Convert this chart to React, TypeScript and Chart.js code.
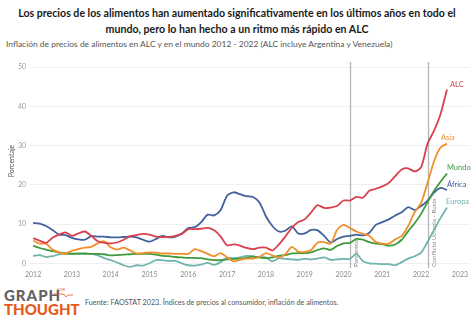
import React, { useEffect, useRef } from "react";
import { Chart, registerables } from "chart.js";

Chart.register(...registerables);

const months = [
  "2012-01","2012-03","2012-05","2012-07","2012-09","2012-11",
  "2013-01","2013-03","2013-05","2013-07","2013-09","2013-11",
  "2014-01","2014-03","2014-05","2014-07","2014-09","2014-11",
  "2015-01","2015-03","2015-05","2015-07","2015-09","2015-11",
  "2016-01","2016-03","2016-05","2016-07","2016-09","2016-11",
  "2017-01","2017-03","2017-05","2017-07","2017-09","2017-11",
  "2018-01","2018-03","2018-05","2018-07","2018-09","2018-11",
  "2019-01","2019-03","2019-05","2019-07","2019-09","2019-11",
  "2020-01","2020-03","2020-05","2020-07","2020-09","2020-11",
  "2021-01","2021-03","2021-05","2021-07","2021-09","2021-11",
  "2022-01","2022-03","2022-05","2022-07","2022-09",
];

const alc = [6.4,5.8,5.2,6.5,7.3,7.9, 7.0,7.6,8.1,7.0,5.6,5.2, 5.1,5.3,6.0,6.9,7.2,7.5, 7.3,6.8,6.7,6.7,7.0,7.5, 8.7,8.7,8.8,9.0,8.4,6.8, 4.6,4.8,4.5,3.9,3.6,4.0, 4.0,3.3,4.8,6.8,9.0,10.5, 11.2,13.0,14.8,14.1,14.2,14.6, 16.0,16.0,16.9,16.7,18.5,19.0, 19.6,20.5,22.2,23.9,24.2,23.4, 24.5,30.5,33.8,38.0,44.3];
const asia = [5.8,5.0,5.0,3.5,2.8,2.5, 3.2,3.6,4.0,4.2,5.1,5.6, 4.1,3.5,4.0,3.3,2.5,2.6, 2.8,2.7,2.5,2.5,2.4,2.4, 2.4,3.6,3.1,2.4,1.8,2.6, 1.5,0.5,0.9,1.2,1.2,1.6, 2.6,2.0,1.5,2.3,4.2,3.0, 2.9,3.4,5.3,5.4,5.0,8.5, 9.8,9.0,8.1,7.5,7.0,5.4, 5.0,5.0,6.1,7.0,9.5,13.0, 15.4,20.5,26.0,29.5,30.5];
const mundo = [4.5,3.9,3.5,3.1,2.8,2.5, 2.4,2.5,2.5,2.4,2.4,2.3, 2.0,2.1,2.2,2.3,2.4,2.4, 2.4,2.2,1.9,1.8,1.6,1.5, 1.4,1.4,1.3,1.0,0.8,0.8, 1.0,1.1,1.2,1.4,1.7,1.5, 1.3,1.5,1.9,2.1,2.5,2.6, 2.6,2.8,3.4,3.8,3.4,4.4, 5.1,5.2,6.2,6.0,5.4,5.0, 4.9,4.5,4.8,6.0,8.2,10.2, 12.6,15.6,18.5,20.8,22.9];
const africa = [10.3,10.1,9.5,8.5,7.3,7.2, 6.5,6.1,6.0,6.9,6.8,6.8, 6.6,6.6,6.7,6.8,6.6,6.0, 5.5,6.2,7.0,6.6,6.8,7.6, 9.0,9.2,10.5,12.4,12.2,13.6, 17.2,18.1,17.6,17.1,16.9,15.5, 12.0,9.5,8.1,8.3,9.4,7.6, 7.6,8.5,8.4,7.0,5.3,6.2, 6.8,7.0,7.3,7.1,7.8,9.8, 10.5,11.2,12.2,13.0,14.3,13.6, 14.6,16.0,18.0,19.2,18.7];
const europa = [1.9,2.1,1.6,1.8,2.3,2.5, 2.5,2.4,2.4,2.4,2.0,1.3, 0.8,0.2,-0.5,-0.9,-0.5,-0.6, 0.0,0.8,0.8,0.6,0.6,0.0, -0.5,-0.6,-0.3,0.1,-0.4,0.3, 1.4,1.3,1.5,1.9,1.8,1.5, 1.5,0.5,1.3,1.1,1.0,0.9, 1.1,1.0,1.2,1.5,0.9,1.0, 1.1,1.1,2.4,0.5,0.0,-0.1, -0.2,-0.2,-0.5,0.3,1.2,1.8, 2.7,5.5,8.5,11.5,14.2];

const seriesNames = ["ALC", "Asia", "Mundo", "África", "Europa"];
const seriesValues = [alc, asia, mundo, africa, europa];
const yearTicks = [2012, 2013, 2014, 2015, 2016, 2017, 2018, 2019, 2020, 2021, 2022, 2023];
const valueTicks = [0, 10, 20, 30, 40, 50];
const eventMonths = ["2020-03", "2022-03"];
const eventLabels = ["Pandemia", "Conflicto Ucrania - Rusia"];

const colors = ["#d8414f", "#f28e2b", "#3f9a3c", "#41609d", "#72b3ae"];
const labelOffsets = [[3, -5], [-6, -6], [0, -6], [0, -5], [-1, -6]];
const FONT = "Lato, 'Open Sans', sans-serif";

const toYear = (m: string) => {
  const [y, mo] = m.split("-").map(Number);
  return y + (mo - 1) / 12;
};

const overlayPlugin = {
  id: "overlay",
  beforeDatasetsDraw(chart: any) {
    const { ctx, chartArea, scales } = chart;
    ctx.save();
    eventMonths.forEach((m, i) => {
      const x = Math.round(scales.x.getPixelForValue(toYear(m))) + 0.5;
      ctx.strokeStyle = "#b5b5b5";
      ctx.lineWidth = 1.3;
      ctx.beginPath();
      ctx.moveTo(x, chartArea.top);
      ctx.lineTo(x, chartArea.bottom);
      ctx.stroke();
      ctx.save();
      ctx.translate(x + 2, chartArea.bottom - 1);
      ctx.rotate(-Math.PI / 2);
      ctx.fillStyle = "#8a8a8a";
      ctx.font = `6.3px ${FONT}`;
      ctx.textAlign = "left";
      ctx.textBaseline = "top";
      ctx.fillText(eventLabels[i], 0, 0);
      ctx.restore();
    });
    ctx.save();
    ctx.translate(12, 111);
    ctx.rotate(-Math.PI / 2);
    ctx.fillStyle = "#555";
    ctx.font = `7px ${FONT}`;
    ctx.textAlign = "center";
    ctx.textBaseline = "middle";
    ctx.fillText("Porcentaje", 0, 0);
    ctx.restore();
    ctx.restore();
  },
  afterDatasetsDraw(chart: any) {
    const { ctx } = chart;
    ctx.save();
    ctx.font = `7.5px ${FONT}`;
    ctx.textAlign = "left";
    ctx.textBaseline = "middle";
    chart.data.datasets.forEach((ds: any, i: number) => {
      const meta = chart.getDatasetMeta(i);
      const last = meta.data[meta.data.length - 1];
      ctx.fillStyle = colors[i];
      ctx.fillText(seriesNames[i], last.x + labelOffsets[i][0], last.y + labelOffsets[i][1]);
    });
    ctx.restore();
  },
};

export default function App() {
  const ref = useRef<HTMLCanvasElement>(null);
  useEffect(() => {
    document.body.style.margin = "0";
    const xs = months.map(toYear);
    const chart = new Chart(ref.current!, {
      type: "line",
      data: {
        datasets: seriesNames.map((name, i) => ({
          label: name,
          data: seriesValues[i].map((v, j) => ({ x: xs[j], y: v })),
          borderColor: colors[i],
          backgroundColor: colors[i],
          borderWidth: 1.8,
          pointRadius: 0,
          tension: 0.25,
        })),
      },
      options: {
        animation: false,
        responsive: false,
        layout: { padding: { top: 12, right: 4, left: 0, bottom: 0 } },
        plugins: { legend: { display: false }, tooltip: { enabled: false } },
        scales: {
          x: {
            type: "linear",
            min: 2011.92,
            max: 2023.26,
            afterBuildTicks: (s: any) => { s.ticks = yearTicks.map((v) => ({ value: v })); },
            afterFit: (s: any) => { s.height = 17; },
            grid: { display: false, drawTicks: false },
            border: { display: false },
            ticks: {
              padding: 3,
              color: "#8c8c8c",
              font: { size: 7, family: FONT },
              maxRotation: 0,
              callback: (v: any) => String(v),
            },
          },
          y: {
            min: -1.2,
            max: 51.3,
            afterBuildTicks: (s: any) => { s.ticks = valueTicks.map((v) => ({ value: v })); },
            afterFit: (s: any) => { s.width = 30; },
            grid: { color: "#efefef", lineWidth: 1, drawTicks: false },
            border: { display: false },
            ticks: {
              padding: 4,
              color: "#9a9a9a",
              font: { size: 7, family: FONT },
              callback: (v: any) => String(v),
            },
          },
        },
      },
      plugins: [overlayPlugin],
    } as any);
    return () => chart.destroy();
  }, []);

  return (
    <div style={{ position: "fixed", left: 0, top: 0, width: 474, height: 323, background: "#fff", fontFamily: FONT, overflow: "hidden" }}>
      <div style={{ position: "absolute", top: 5, left: 0, width: 474, textAlign: "center", fontWeight: 700, fontSize: 10.6, lineHeight: "16px", color: "#1a1a1a", whiteSpace: "nowrap" }}>
        Los precios de los alimentos han aumentado significativamente en los últimos años en todo el
        <br />
        mundo, pero lo han hecho a un ritmo más rápido en ALC
      </div>
      <div style={{ position: "absolute", top: 39, left: 6, fontSize: 8.45, color: "#555", whiteSpace: "nowrap" }}>
        Inflación de precios de alimentos en ALC y en el mundo 2012 - 2022 (ALC incluye Argentina y Venezuela)
      </div>
      <canvas ref={ref} width={474} height={235} style={{ position: "absolute", top: 50, left: 0, width: 474, height: 235 }} />
      <div style={{ position: "absolute", top: 287, left: 4, fontWeight: 900, fontSize: 15, lineHeight: "16px", color: "#626262", letterSpacing: 1 }}>GRAPH</div>
      <div style={{ position: "absolute", top: 287, left: 57, fontSize: 4, color: "#e8591a" }}>FOR</div>
      <svg style={{ position: "absolute", top: 292, left: 54 }} width={20} height={8}>
        <path d="M0 2 L8 2 Q11 2 12 5 L14 3 L19 3" stroke="#e8591a" strokeWidth={0.8} fill="none" />
      </svg>
      <div style={{ position: "absolute", top: 301, left: 4, fontWeight: 900, fontSize: 15, lineHeight: "17px", color: "#e8591a" }}>THOUGHT</div>
      <div style={{ position: "absolute", top: 298, left: 85, fontSize: 7.2, color: "#555", whiteSpace: "nowrap" }}>
        Fuente: FAOSTAT 2023. Índices de precios al consumidor, inflación de alimentos.
      </div>
    </div>
  );
}
